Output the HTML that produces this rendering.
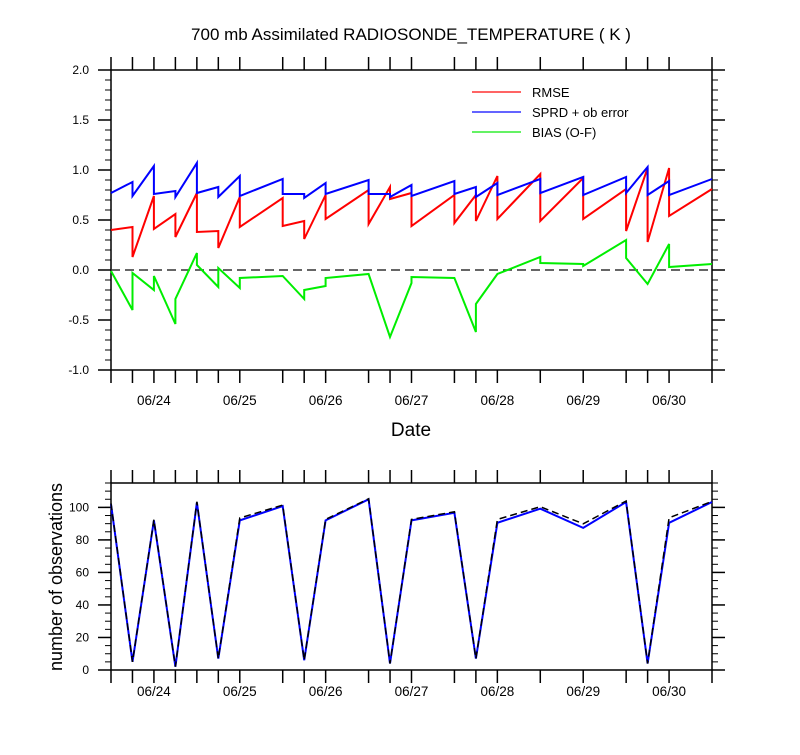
<!DOCTYPE html>
<html><head><meta charset="utf-8"><style>
body{margin:0;background:#fff;}
svg text{font-family:"Liberation Sans",sans-serif;}
</style></head><body>
<svg id="c" width="800" height="750" xmlns="http://www.w3.org/2000/svg">
<text x="411" y="40" font-size="17" text-anchor="middle">700 mb Assimilated RADIOSONDE_TEMPERATURE ( K )</text>
<text x="411" y="436" font-size="19" text-anchor="middle">Date</text>
<text transform="translate(62,577) rotate(-90)" font-size="18" text-anchor="middle">number of observations</text>
<g id="topPanel"></g>
<g id="botPanel"></g>
</svg>
<script>
const dayLabels=["06/24","06/25","06/26","06/27","06/28","06/29","06/30"];
const dayHours=[12,36,60,84,108,132,156];
const rmseT=[0,6,6,12,12,18,18,24,24,30,30,36,36,48,48,54,54,60,60,72,72,78,78,84,84,96,96,102,102,108,108,120,120,132,132,144,144,150,150,156,156,168];
const rmseV=[0.40,0.43,0.13,0.74,0.41,0.56,0.33,0.77,0.38,0.39,0.22,0.73,0.43,0.72,0.44,0.49,0.31,0.75,0.51,0.80,0.46,0.83,0.71,0.77,0.44,0.75,0.47,0.75,0.49,0.94,0.51,0.96,0.49,0.92,0.51,0.81,0.39,1.02,0.28,1.02,0.54,0.81];
const sprdT=[0,6,6,12,12,18,18,24,24,30,30,36,36,48,48,54,54,60,60,72,72,78,78,84,84,96,96,102,102,108,108,120,120,132,132,144,144,150,150,156,156,168];
const sprdV=[0.77,0.88,0.74,1.04,0.76,0.79,0.73,1.07,0.77,0.83,0.73,0.94,0.74,0.91,0.76,0.76,0.72,0.87,0.76,0.90,0.76,0.76,0.73,0.85,0.74,0.89,0.76,0.83,0.73,0.87,0.75,0.91,0.77,0.93,0.75,0.93,0.77,1.03,0.75,0.89,0.75,0.91];
const biasT=[0,6,6,12,12,18,18,24,24,30,30,36,36,48,54,54,60,60,72,78,84,84,96,102,102,108,120,120,132,132,144,144,150,156,156,168];
const biasV=[-0.01,-0.40,-0.03,-0.20,-0.06,-0.54,-0.29,0.17,0.05,-0.17,0.02,-0.18,-0.08,-0.06,-0.29,-0.20,-0.16,-0.08,-0.04,-0.67,-0.13,-0.07,-0.08,-0.62,-0.34,-0.04,0.13,0.07,0.06,0.04,0.30,0.12,-0.14,0.26,0.03,0.06];
const obsT=[0,6,12,18,24,30,36,48,54,60,72,78,84,96,102,108,120,132,144,150,156,168];
const obsBlue=[102,5,92,2,103,7,92,100.8,6,92,105,4,92,96.7,7,90.5,99.2,87.4,103.3,4,90.5,103.3];
const obsBlack=[102.5,5,92.5,2,103.5,7,93.5,101.4,6,92.6,105.3,4,92.6,97.3,7,92.6,100.4,89.9,103.9,4,93.6,103.7];
const topTicks=[0,6,12,18,24,30,36,48,54,60,72,78,84,96,102,108,120,132,144,150,156,168];
const yTopLabels=["-1.0","-0.5","0.0","0.5","1.0","1.5","2.0"];
const yBotLabels=["0","20","40","60","80","100"];

const NS="http://www.w3.org/2000/svg";
const X0=111,X1=712;
const xs=h=>X0+(X1-X0)*h/168;
const ysT=v=>370-(v+1)*100;
const ysB=v=>670-v*(187/115);
function mk(tag,at,parent){const e=document.createElementNS(NS,tag);for(const k in at)e.setAttribute(k,at[k]);parent.appendChild(e);return e;}
function line(p,x1,y1,x2,y2,w){return mk('line',{x1,y1,x2,y2,stroke:'#000','stroke-width':w||1.2},p);}
function panel(g,yt,yb,ys,majorVals,labels,minorStep,minorMax,minorMin,labOff){
  const fr=mk('rect',{x:X0,y:yt,width:X1-X0,height:yb-yt,fill:'none',stroke:'#000','stroke-width':1.5},g);
  
  
  topTicks.forEach(h=>{const x=xs(h);line(g,x,yt,x,yt-13,1.5);line(g,x,yb,x,yb+13,1.5);});
  for(let v=minorMin;v<=minorMax+1e-9;v+=minorStep){const y=ys(v);line(g,X0,y,X0-6,y,1);line(g,X1,y,X1+6,y,1);}
  majorVals.forEach((v,i)=>{const y=ys(v);line(g,X0,y,X0-13,y,1.5);line(g,X1,y,X1+13,y,1.5);
    const t=mk('text',{x:X0-22,y:y+4,'font-size':12,'text-anchor':'end'},g);t.textContent=labels[i];
    
    });
  dayHours.forEach((h,i)=>{const t=mk('text',{x:xs(h),y:yb+labOff,'font-size':13.5,'text-anchor':'middle'},g);t.textContent=dayLabels[i];
    
    });
}
function series(g,T,V,ys,color,dash,w,name){
  const d=T.map((h,i)=>(i?'L':'M')+xs(h).toFixed(1)+','+ys(V[i]).toFixed(1)).join(' ');
  const p=mk('path',{d,fill:'none',stroke:color,'stroke-width':w,'stroke-linejoin':'miter'},g);
  if(dash)p.setAttribute('stroke-dasharray',dash);
  
  
}
const topG=document.getElementById('topPanel'),botG=document.getElementById('botPanel');
panel(topG,70,370,ysT,[-1,-0.5,0,0.5,1,1.5,2],yTopLabels,0.1,2,-1,35);
const zl=mk('line',{x1:X0,y1:ysT(0),x2:X1,y2:ysT(0),stroke:'#333','stroke-width':1.5,'stroke-dasharray':'9,5'},topG);


series(topG,rmseT,rmseV,ysT,'#ff0000',null,2,'rmse-line');
series(topG,sprdT,sprdV,ysT,'#0000ff',null,2,'sprd-line');
series(topG,biasT,biasV,ysT,'#00ee00',null,2,'bias-line');
const leg=[["RMSE","#ff3030"],["SPRD + ob error","#3030ff"],["BIAS (O-F)","#30ee30"]];
leg.forEach((l,i)=>{const y=92+i*20;
  const g=mk('g',{},topG);
  
  
  mk('line',{x1:472,y1:y,x2:521,y2:y,stroke:l[1],'stroke-width':1.5},g);
  const t=mk('text',{x:532,y:y+5,'font-size':13},g);t.textContent=l[0];});
panel(botG,483,670,ysB,[0,20,40,60,80,100],yBotLabels,5,115,0,26);
series(botG,obsT,obsBlue,ysB,'#0000ff',null,2,'obs-blue-line');
series(botG,obsT,obsBlack,ysB,'#000',"7,4",1.5,'obs-black-dashed-line');
</script>
</body></html>
